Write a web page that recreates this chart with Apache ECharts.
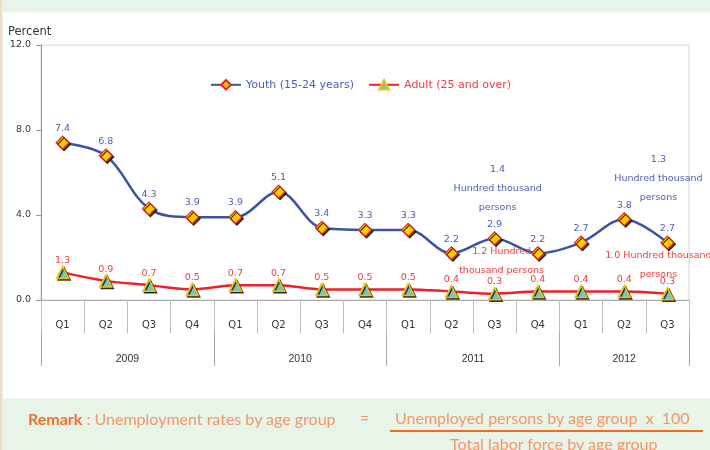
<!DOCTYPE html>
<html>
<head>
<meta charset="utf-8">
<script src="https://cdn.jsdelivr.net/npm/echarts@6/dist/echarts.min.js"></script>
<style>
  body { margin: 0; }
  #wrap { position: relative; width: 710px; height: 450px; background: #e8f4e7; overflow: hidden; }
  .strip { position: absolute; left: 0; top: 0; width: 2px; height: 450px; background: #f2dcc6; }
  .panel { position: absolute; left: 3px; top: 12px; width: 707px; height: 386px; background: #fff; }
  #chart { position: absolute; left: 0; top: 0; width: 710px; height: 450px; }
  .rm { position: absolute; font-family: Lato, 'Open Sans', sans-serif; font-size: 16px; color: #f4956a; white-space: pre; line-height: 18px; }
  .rm b { color: #f07030; font-weight: bold; }
  .bar { position: absolute; left: 390px; top: 430px; width: 313px; height: 2px; background: #f06a28; }
</style>
</head>
<body>
<div id="wrap">
  <div class="strip"></div>
  <div class="panel"></div>
  <div id="chart"></div>
  <div class="rm" style="left:28px;top:410px"><b>Remark</b> : Unemployment rates by age group</div>
  <div class="rm" style="left:360px;top:409px">=</div>
  <div class="rm" style="left:395px;top:409px">Unemployed persons by age group  x  100</div>
  <div class="bar"></div>
  <div class="rm" style="left:450px;top:435px">Total labor force by age group</div>
</div>
<script>
// quarters on the bottom axis
const quarters = ['Q1', 'Q2', 'Q3', 'Q4', 'Q1', 'Q2', 'Q3', 'Q4', 'Q1', 'Q2', 'Q3', 'Q4', 'Q1', 'Q2', 'Q3']
// year row: half-quarter slots, 31 positions (0..30)
const yearSlots = new Array(31).fill('')
yearSlots[4] = '2009'
yearSlots[12] = '2010'
yearSlots[20] = '2011'
yearSlots[27] = '2012'
const yearBreaks = [0, 8, 16, 24, 30]

const youth = [7.4, 6.8, 4.3, 3.9, 3.9, 5.1, 3.4, 3.3, 3.3, 2.2, 2.9, 2.2, 2.7, 3.8, 2.7]
const adult = [1.3, 0.9, 0.7, 0.5, 0.7, 0.7, 0.5, 0.5, 0.5, 0.4, 0.3, 0.4, 0.4, 0.4, 0.3]

const yTicks = { min: 0, max: 12, interval: 4 }

const font = 'DejaVu Sans'
const blue = '#3a53a4'
const blueTxt = '#4a60b0'
const red = '#ee2028'
const redTxt = '#f03c3c'

const chart = echarts.init(document.getElementById('chart'))

const symbolShadow = {
  shadowColor: 'rgba(30,25,0,0.85)',
  shadowOffsetX: 1.5,
  shadowOffsetY: 1.5,
  shadowBlur: 0
}

chart.setOption({
  animation: false,
  title: {
    text: 'Percent',
    left: 3,
    top: 21,
    textStyle: { fontFamily: font, fontSize: 11.5, fontWeight: 'normal', color: '#333' }
  },
  legend: {
    left: 205,
    top: 74,
    itemWidth: 30,
    itemHeight: 12,
    itemGap: 14,
    textStyle: { fontFamily: font, fontSize: 11 },
    data: [
      { name: 'Youth (15-24 years)', textStyle: { color: blueTxt } },
      { name: 'Adult (25 and over)', textStyle: { color: redTxt } }
    ]
  },
  grid: {
    left: 41,
    right: 21,
    top: 45,
    bottom: 150,
    show: true,
    borderColor: '#d4d4d4',
    borderWidth: 1
  },
  xAxis: [
    {
      type: 'category',
      data: quarters,
      boundaryGap: true,
      axisLine: { lineStyle: { color: '#aaa', width: 1 } },
      axisTick: { show: true, length: 33, interval: 0, lineStyle: { color: '#bbb' } },
      axisLabel: { interval: 0, margin: 20, fontFamily: font, fontSize: 10, color: '#333' }
    },
    {
      type: 'category',
      data: yearSlots,
      boundaryGap: false,
      position: 'bottom',
      offset: 33,
      axisLine: { show: false },
      axisTick: {
        show: true,
        length: 33,
        interval: (i) => yearBreaks.includes(i),
        lineStyle: { color: '#aaa' }
      },
      axisLabel: { interval: 0, margin: 21, fontFamily: 'Liberation Sans', fontSize: 10.5, color: '#333' }
    }
  ],
  yAxis: {
    type: 'value',
    min: yTicks.min,
    max: yTicks.max,
    interval: yTicks.interval,
    splitLine: { show: false },
    axisLine: { show: true, lineStyle: { color: '#999' } },
    axisTick: { show: true, length: 5, lineStyle: { color: '#999' } },
    axisLabel: { margin: 10, fontFamily: font, fontSize: 9.5, color: '#333', formatter: (v) => v.toFixed(1) }
  },
  series: [
    {
      name: 'Youth (15-24 years)',
      type: 'line',
      data: youth,
      smooth: 0.35,
      symbol: 'diamond',
      symbolSize: 13,
      lineStyle: { color: blue, width: 2.5 },
      itemStyle: Object.assign({ color: '#ffcc00', borderColor: '#e8231f', borderWidth: 1.2 }, symbolShadow),
      label: {
        show: true,
        position: 'top',
        distance: 2,
        fontFamily: font,
        fontSize: 9.5,
        color: blueTxt,
        formatter: (p) => p.value.toFixed(1)
      },
      z: 3
    },
    {
      name: 'Adult (25 and over)',
      type: 'line',
      data: adult,
      smooth: 0.35,
      symbol: 'triangle',
      symbolSize: 12,
      lineStyle: { color: red, width: 2.5 },
      itemStyle: Object.assign({ color: '#6fc3d3', borderColor: '#f2c200', borderWidth: 1.5 }, symbolShadow),
      label: {
        show: true,
        position: 'top',
        distance: 0,
        fontFamily: font,
        fontSize: 9.5,
        color: redTxt,
        formatter: (p) => p.value.toFixed(1)
      },
      z: 2
    }
  ]
})

// annotations anchored to the data points
function note(seriesIndex, idx, vals, dx, dy, text, color) {
  const pt = chart.convertToPixel({ seriesIndex: seriesIndex }, [idx, vals[idx]])
  return {
    type: 'text',
    z: 10,
    style: {
      text: text,
      x: pt[0] + dx,
      y: pt[1] + dy,
      align: 'center',
      verticalAlign: 'middle',
      lineHeight: 19,
      fontFamily: font,
      fontSize: 9.5,
      fill: color
    }
  }
}

chart.setOption({
  graphic: [
    note(0, 10, youth, 3, -50, '1.4\nHundred thousand\npersons', blueTxt),
    note(1, 10, adult, 7, -33, '1.2 Hundred\nthousand persons', redTxt),
    note(0, 14, youth, -9, -64, '1.3\nHundred thousand\npersons', blueTxt),
    note(1, 14, adult, -9, -29, '1.0 Hundred thousand\npersons', redTxt)
  ]
})
</script>
</body>
</html>
